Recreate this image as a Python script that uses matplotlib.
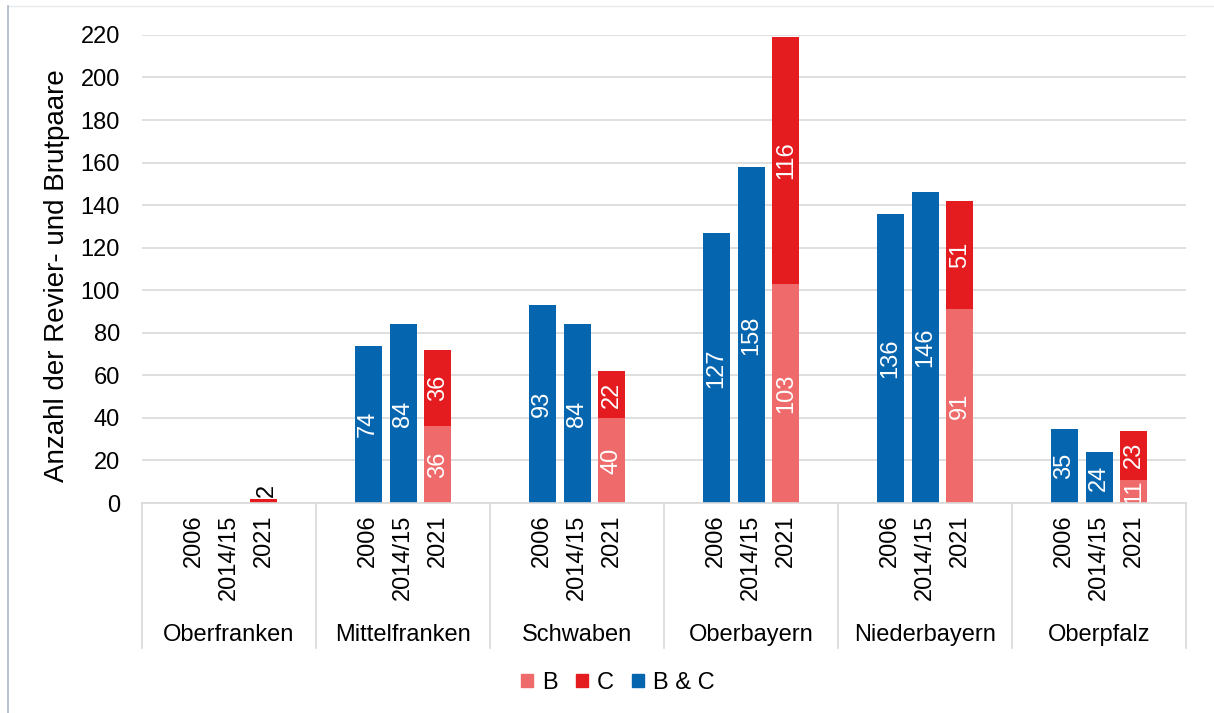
import matplotlib
matplotlib.use("Agg")
import matplotlib.pyplot as plt
from matplotlib.lines import Line2D
from matplotlib.patches import Patch
import numpy as np

plt.rcParams['font.family'] = ['Liberation Sans', 'DejaVu Sans']

regions = ["Oberfranken", "Mittelfranken", "Schwaben", "Oberbayern", "Niederbayern", "Oberpfalz"]
years = ["2006", "2014/15", "2021"]
# B & C combined (2006, 2014/15); None = no data
bc_2006 = [None, 74, 93, 127, 136, 35]
bc_2014 = [None, 84, 84, 158, 146, 24]
# 2021 split into B and C
b_2021 = [0, 36, 40, 103, 91, 11]
c_2021 = [2, 36, 22, 116, 51, 23]

col_b = "#EF6A6A"
col_c = "#E41B1F"
col_bc = "#0565AF"

fig = plt.figure(figsize=(12.14, 7.13), dpi=100)
ax = fig.add_axes([0.117, 0.2945, 0.86, 0.6565])

x = np.arange(len(regions))
off = 0.2
w = 0.155
fs = 17

for i in range(len(regions)):
    for val, dx in ((bc_2006[i], -off), (bc_2014[i], 0)):
        if val is not None:
            ax.bar(x[i] + dx, val, width=w, color=col_bc, zorder=3)
            ax.text(x[i] + dx, val / 2, str(val), rotation=90, ha='center', va='center',
                    color='white', fontsize=fs, zorder=4, clip_on=True)
    b = b_2021[i]
    c = c_2021[i]
    ax.bar(x[i] + off, b, width=w, color=col_b, zorder=3)
    ax.bar(x[i] + off, c, bottom=b, width=w, color=col_c, zorder=3)
    if b > 0:
        ax.text(x[i] + off, b / 2, str(b), rotation=90, ha='center', va='center',
                color='white', fontsize=fs, zorder=4, clip_on=True)
    if c >= 5:
        ax.text(x[i] + off, b + c / 2, str(c), rotation=90, ha='center', va='center',
                color='white', fontsize=fs, zorder=4, clip_on=True)
    elif c > 0:
        ax.text(x[i] + off + 0.015, b + c + 1, str(c), rotation=90, ha='center', va='bottom',
                color='black', fontsize=fs, zorder=4)

ax.set_xlim(-0.5, len(regions) - 0.5)
ax.set_ylim(0, 220)
ax.set_yticks(np.arange(0, 221, 20))
ax.tick_params(axis='y', length=0, pad=16, labelsize=fs)
ax.set_xticks([])
ax.grid(axis='y', color='#D9D9D9', linewidth=1.2, zorder=0)
for s in ('top', 'right', 'left'):
    ax.spines[s].set_visible(False)
ax.spines['bottom'].set_color('#D9D9D9')
ax.spines['bottom'].set_linewidth(1.2)
ax.spines['bottom'].set_zorder(5)
ax.set_ylabel("Anzahl der Revier- und Brutpaare", fontsize=20, va='center')
ax.yaxis.set_label_coords(-0.0814, 0.485)

trans = ax.get_xaxis_transform()
for i in range(len(regions)):
    for j, yl in enumerate(years):
        ax.text(x[i] + (j - 1) * off, -0.024, yl, rotation=90, ha='center', va='top',
                fontsize=fs, transform=trans)
    ax.text(x[i], -0.281, regions[i], ha='center', va='center', fontsize=fs, transform=trans)
for k in range(len(regions) + 1):
    ax.add_line(Line2D([k - 0.5, k - 0.5], [0, -0.31], transform=trans, color='#D9D9D9',
                       linewidth=1.2, clip_on=False))

handles = [Patch(color=col_b, label='B'), Patch(color=col_c, label='C'), Patch(color=col_bc, label='B & C')]
fig.legend(handles=handles, loc='center', bbox_to_anchor=(0.509, 0.042), ncol=3, frameon=False,
           fontsize=fs, handlelength=0.5, handleheight=0.5, handletextpad=0.4, columnspacing=0.75,
           borderpad=0.2)

fig.add_artist(Line2D([8/1214, 1], [1 - 6/713, 1 - 6/713], color='#E6EAEE', linewidth=1))
fig.add_artist(Line2D([8/1214, 8/1214], [0, 1 - 6/713], color='#A9B9C8', linewidth=1.2))

fig.savefig("out.png", dpi=100)
